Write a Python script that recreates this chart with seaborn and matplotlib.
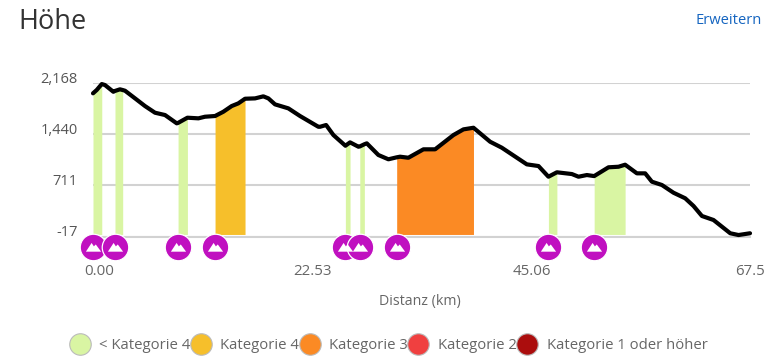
import matplotlib.pyplot as plt
import matplotlib.path as mpath
import matplotlib.transforms as mtrans
from matplotlib.lines import Line2D
import numpy as np
import pandas as pd
import seaborn as sns

# --- Hoehenprofil: elevation over distance with climb categories ---
distance_km = [0.0, 0.38, 0.9, 1.23, 2.09, 2.26, 2.77, 3.05, 3.29, 4.32, 5.34, 6.37, 7.4, 8.6,
               8.74, 9.7, 10.83, 11.51, 12.54, 13.39, 14.25, 14.93, 15.62, 16.65, 17.5, 18.02,
               18.7, 20.07, 21.27, 23.15, 23.33, 23.95, 24.7, 25.93, 26.41, 27.27, 27.41, 27.88,
               28.13, 29.32, 30.35, 31.2, 31.55, 32.4, 33.95, 35.15, 37.03, 38.06, 39.09, 40.8,
               42.0, 44.57, 45.77, 46.79, 47.66, 49.2, 49.88, 50.74, 51.49, 52.96, 53.99, 54.67,
               55.88, 56.73, 57.42, 58.45, 59.64, 60.84, 61.7, 62.56, 63.75, 65.47, 66.32, 67.5]
elevation_m = [2021, 2068, 2153, 2139, 2043, 2055, 2078, 2068, 2058, 1949, 1840, 1745, 1712, 1594,
               1600, 1674, 1665, 1688, 1698, 1759, 1840, 1878, 1944, 1949, 1978, 1949,
               1864, 1807, 1698, 1545, 1545, 1570, 1427, 1275, 1323, 1261, 1265, 1296,
               1309, 1143, 1082, 1110, 1119, 1104, 1224, 1224, 1427, 1508, 1531, 1332,
               1247, 1010, 986, 834, 897, 872, 834, 858, 843, 968, 976, 1005,
               882, 882, 763, 716, 606, 527, 417, 275, 218, 29, 4, 29]

climb_start = [0.0, 2.26, 8.74, 12.54, 25.93, 27.41, 31.2, 46.79, 51.49]
climb_end = [0.9, 3.05, 9.7, 15.62, 26.41, 27.88, 39.09, 47.66, 54.67]
climb_cat = [0, 0, 0, 1, 0, 0, 2, 0, 0]

cat_labels = ["< Kategorie 4", "Kategorie 4", "Kategorie 3", "Kategorie 2", "Kategorie 1 oder höher"]
cat_colors = ["#d9f5a3", "#f6bf2b", "#fb8a24", "#f04040", "#ab0d0d"]

x_ticks = [0, 22.53, 45.06, 67.5]
x_ticklabels = ["0.00", "22.53", "45.06", "67.5"]
y_ticks = [-17, 711, 1440, 2168]
y_ticklabels = ["-17", "711", "1,440", "2,168"]

df = pd.DataFrame({"km": distance_km, "m": elevation_m})

sns.set_style("white")
plt.rcParams["font.family"] = ["Open Sans", "DejaVu Sans"]

fig = plt.figure(figsize=(7.72, 3.6), dpi=100)
ax = fig.add_axes([93 / 772, 1 - 236.5 / 360, 657 / 772, 153.5 / 360])

# climb areas
arr_km = df["km"].to_numpy()
for start, end, cat in zip(climb_start, climb_end, climb_cat):
    mask = (arr_km >= start) & (arr_km <= end)
    ax.fill_between(arr_km[mask], 12, df["m"].to_numpy()[mask], color=cat_colors[cat], lw=0, zorder=2)

sns.lineplot(data=df, x="km", y="m", color="black", linewidth=3.0, ax=ax, zorder=3, clip_on=False)

ax.set_xlim(0, 67.5)
ax.set_ylim(-17, 2168)
ax.set_xticks(x_ticks)
ax.set_xticklabels(x_ticklabels)
ax.set_yticks(y_ticks)
ax.set_yticklabels(y_ticklabels)
ax.set_xlabel("Distanz (km)", fontsize=10.2, color="#666666", labelpad=11)
ax.set_ylabel("")
ax.grid(axis="y", color="#d2d2d2", lw=1.5, zorder=1)
sns.despine(ax=ax, left=True, top=True, right=True)
ax.spines["bottom"].set_color("#d2d2d2")
ax.spines["bottom"].set_linewidth(1.5)
ax.tick_params(axis="x", length=14, width=1, color="#666666", labelsize=10.8, labelcolor="#666666", pad=5.5)
ax.tick_params(axis="y", length=0, labelsize=10.5, labelcolor="#555555", pad=11)
ax.xaxis.label.set_x(0.498)

# labels sit a little off their ticks in the original
first = ax.get_xticklabels()[0]
first.set_transform(first.get_transform() + mtrans.ScaledTranslation(6 / 100, 0, fig.dpi_scale_trans))
for lab in ax.get_yticklabels():
    lab.set_transform(lab.get_transform() + mtrans.ScaledTranslation(0, 5.5 / 100, fig.dpi_scale_trans))

# climb pins below the axis
pin_y = [-162] * len(climb_start)
mountain = mpath.Path([(-1, -0.55), (-0.25, 0.6), (0.05, 0.15), (0.3, 0.4), (1, -0.55), (-1, -0.55)], closed=True)
sns.scatterplot(x=climb_start, y=pin_y, s=365, color="#c010c0", edgecolor="white", linewidth=0.9,
                clip_on=False, zorder=5, ax=ax, legend=False)
for km, y in zip(climb_start, pin_y):
    ax.scatter([km], [y], s=120, marker=mountain, color="white", linewidth=0, clip_on=False, zorder=6)

fig.text(18 / 772, 1 - 22 / 360, "Höhe", fontsize=19.5, color="#333333", va="center")
fig.text(762 / 772, 1 - 21 / 360, "Erweitern", fontsize=10.6, color="#1565c0", va="center", ha="right")

handles = [Line2D([], [], ls="", marker="o", ms=15.5, mfc=c, mec="#bbbbbb", mew=0.8) for c in cat_colors]
fig.legend(handles, cat_labels, ncol=5, frameon=False, fontsize=10.7, labelcolor="#666666",
           loc="center left", bbox_to_anchor=(65 / 772, 1 - 345.5 / 360), columnspacing=-0.29,
           handletextpad=0.3, handlelength=2.0, borderpad=0, borderaxespad=0)

plt.savefig("out.png", dpi=100)
